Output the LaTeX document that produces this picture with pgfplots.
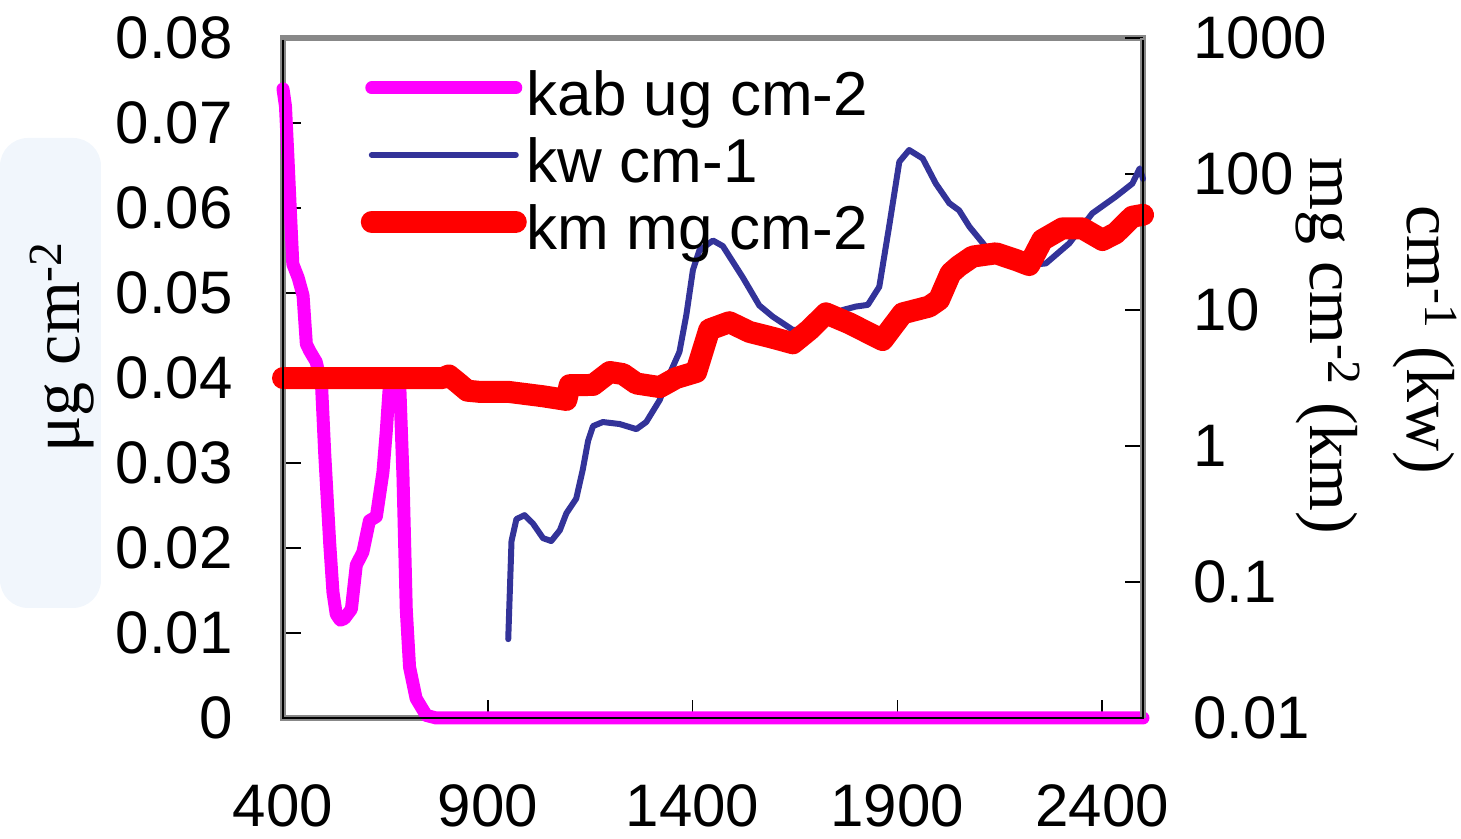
\documentclass[border=0pt]{standalone}
\usepackage{fontspec}
\setmainfont{Liberation Sans}
\newfontfamily\seriffont{Liberation Serif}
\usepackage{pgfplots}
\pgfplotsset{compat=1.18}

\definecolor{kabcol}{RGB}{255,0,255}
\definecolor{kwcol}{RGB}{51,51,153}
\definecolor{kmcol}{RGB}{255,0,0}
\definecolor{framegray}{RGB}{136,136,136}
\definecolor{decoblue}{RGB}{241,246,252}

\pgfplotsset{
  common/.style={
    scale only axis, width=430pt, height=340pt,
    xmin=400, xmax=2500,
    tick align=inside, major tick length=9pt,
    tick style={black, line width=0.75pt},
    axis line style={framegray, line width=3pt},
    ticklabel style={font=\fontsize{30}{36}\selectfont},
    /pgf/number format/assume math mode=true,
    /pgf/number format/1000 sep={},
    clip=false,
  }
}

\begin{document}
\begin{tikzpicture}
% faint background patch on the left, as in the slide
\fill[decoblue, rounded corners=14pt] (-141.5pt,55pt) rectangle (-91pt,290pt);

\begin{axis}[common, name=ax,
  ymin=0, ymax=0.08,
  xtick={400,900,1400,1900,2400},
  ytick={0,0.01,0.02,0.03,0.04,0.05,0.06,0.07,0.08},
  xtick pos=bottom, ytick pos=left,
  scaled y ticks=false,
  yticklabel style={/pgf/number format/fixed, /pgf/number format/precision=2, inner sep=0pt, xshift=-25pt},
  xticklabel style={inner sep=0pt, yshift=-33pt},
]
\addplot[kabcol, line width=6.5pt, line join=round, line cap=round] coordinates {
(400,0.074) (406,0.072) (412,0.066) (418,0.0596) (424,0.0534) (437,0.0518)
(449,0.0497) (457,0.044) (465,0.0432) (481,0.0419) (494,0.0393) (502,0.031)
(514,0.0206) (522,0.0148) (530,0.0122) (540,0.0115) (550,0.0117) (567,0.0128)
(579,0.018) (595,0.0195) (611,0.0232) (628,0.0237) (644,0.0289) (652,0.0336)
(660,0.0393) (672,0.0404) (685,0.0393) (693,0.0284) (701,0.0128) (709,0.006)
(725,0.0023) (750,0.0003) (774,0) (2500,0)
};
\end{axis}

\begin{axis}[common,
  ymode=log, ymin=0.01, ymax=1000,
  axis x line=none, axis y line*=right,
  ytick={0.01,0.1,1,10,100,1000},
  yticklabels={0.01,0.1,1,10,100,1000},
  yminorticks=false,
  yticklabel style={anchor=west, inner sep=0pt, xshift=25pt},
  legend style={at={(0.09,0.952)}, anchor=north west, draw=none, fill=none,
    inner sep=0pt, row sep=9.5pt, font=\fontsize{31}{36}\selectfont,
    nodes={inner sep=0pt},
    /tikz/every odd column/.append style={column sep=0pt}},
  legend cell align=left,
  legend image code/.code={\draw[#1, line cap=round] (0pt,0.35em) -- (72pt,0.35em);},
]
\addlegendimage{kabcol, line width=6.5pt}
\addlegendentry{kab ug cm-2}
\addplot[kwcol, line width=3pt, line join=round, line cap=round] coordinates {
(950,0.038) (958,0.20) (970,0.29) (990,0.31) (1010,0.27) (1035,0.21) (1055,0.20)
(1076,0.24) (1092,0.32) (1116,0.41) (1132,0.67) (1145,1.09) (1157,1.40) (1181,1.50)
(1222,1.45) (1263,1.33) (1287,1.50) (1320,2.18) (1344,3.38) (1368,4.91) (1385,9.23)
(1401,19.7) (1417,27.5) (1450,32.4) (1474,29.5) (1523,17.3) (1563,10.8) (1596,8.93)
(1645,7.13) (1685,7.13) (1726,8.43) (1767,10) (1799,10.6) (1828,10.9) (1856,14.8)
(1880,41.0) (1905,123) (1929,150) (1962,130) (1994,85) (2027,61) (2051,54)
(2076,41) (2116,29.2) (2160,25) (2222,21.4) (2263,22) (2320,30.9) (2376,51.3)
(2433,68) (2474,85) (2492,110) (2500,92)
};
\addlegendentry{kw cm-1}
\addplot[kmcol, line width=11pt, line join=round, line cap=round] coordinates {
(400,3.16) (790,3.16) (805,3.3) (825,2.95) (850,2.55) (880,2.5) (950,2.5)
(1035,2.32) (1092,2.18) (1100,2.8) (1157,2.81) (1198,3.5) (1230,3.38) (1263,2.88)
(1320,2.71) (1360,3.16) (1409,3.5) (1441,7.18) (1490,8.13) (1539,6.9) (1600,6.2)
(1645,5.69) (1685,7.13) (1726,9.44) (1783,7.98) (1864,6.01) (1913,9.44) (1978,10.6)
(2002,11.9) (2030,18.6) (2050,21) (2084,24.7) (2141,26.1) (2190,23.3) (2222,21.4)
(2254,32.7) (2303,39.8) (2352,39.8) (2401,32.7) (2433,36.6) (2474,48.5) (2500,50.1)
};
\addlegendentry{km mg cm-2}
\end{axis}

% thin dark value-axis lines inside the grey frame
\draw[black, line width=0.75pt] ([yshift=-1pt]ax.north west) -- (ax.south west) -- (ax.south east) -- ([yshift=-1pt]ax.north east);

\node[rotate=90, font=\seriffont\fontsize{34}{40}\selectfont]
  at ([xshift=-110.5pt, yshift=185.5pt]ax.south west) {μg cm\textsuperscript{-2}};
\node[rotate=-90, font=\seriffont\fontsize{34}{40}\selectfont]
  at ([xshift=92.5pt, yshift=186pt]ax.south east) {mg cm\textsuperscript{-2} (km)};
\node[rotate=-90, font=\seriffont\fontsize{34}{40}\selectfont]
  at ([xshift=141pt, yshift=189pt]ax.south east) {cm\textsuperscript{-1} (kw)};

\pgfresetboundingbox
\path ([xshift=-141.5pt, yshift=-60.5pt]ax.south west) rectangle ([xshift=159pt, yshift=19pt]ax.north east);
\end{tikzpicture}
\end{document}
